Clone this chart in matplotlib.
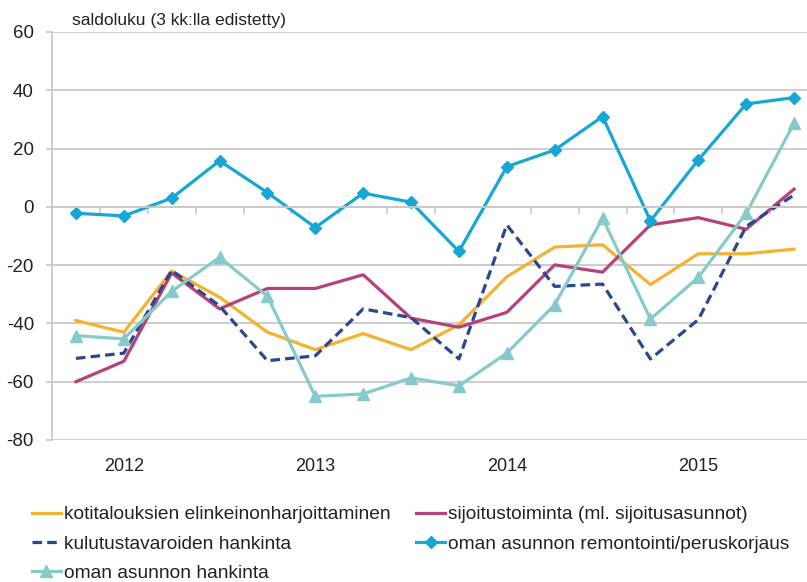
import matplotlib
matplotlib.use("Agg")
import matplotlib.pyplot as plt

periods = list(range(16))
year_labels = ["2012", "2013", "2014", "2015"]
year_pos = [1, 5, 9, 13]

koti = [-39, -43, -22, -31, -43, -49, -43.5, -49, -40.5, -24, -13.8, -13, -26.7, -16.1, -16.1, -14.5]
sijoitus = [-60, -53, -22.7, -35, -28, -28, -23.3, -38.2, -41.3, -36.2, -19.9, -22.4, -6.2, -3.7, -7.7, 6.1]
kulutus = [-52, -50.2, -21.8, -34, -52.8, -51.1, -35, -38, -52.2, -6.2, -27.3, -26.5, -52.2, -38.7, -6.7, 4.1]
remontointi = [-2.2, -3.1, 3.0, 15.8, 4.9, -7.1, 4.7, 1.6, -15.3, 13.8, 19.5, 31.0, -4.8, 16.1, 35.3, 37.5]
hankinta = [-44.2, -45.3, -29, -17.3, -30.7, -65, -64.2, -58.7, -61.4, -50.2, -33.6, -3.9, -38.5, -24.2, -2.2, 28.7]

labels = ["kotitalouksien elinkeinonharjoittaminen",
          "sijoitustoiminta (ml. sijoitusasunnot)",
          "kulutustavaroiden hankinta",
          "oman asunnon remontointi/peruskorjaus",
          "oman asunnon hankinta"]

c_koti = "#F3B232"
c_sij = "#B5437A"
c_kul = "#2B4790"
c_rem = "#18A7D5"
c_han = "#86CBCA"
grid_c = "#C9C9C9"

plt.rcParams['font.family'] = ['Liberation Sans', 'DejaVu Sans']
plt.rcParams['axes.unicode_minus'] = False

fig = plt.figure(figsize=(8.07, 5.82), dpi=100)
ax = fig.add_axes([52/807, 1-440/582, 766/807, 408/582])

lw = 2.3
l1, = ax.plot(periods, koti, color=c_koti, lw=lw, label=labels[0])
l2, = ax.plot(periods, sijoitus, color=c_sij, lw=lw, label=labels[1])
l3, = ax.plot(periods, kulutus, color=c_kul, lw=lw, ls=(0, (3.0, 1.6)), label=labels[2])
l4, = ax.plot(periods, remontointi, color=c_rem, lw=lw, marker='D', ms=6, label=labels[3])
l5, = ax.plot(periods, hankinta, color=c_han, lw=lw, marker='^', ms=9, label=labels[4])

ax.set_xlim(-0.5, 15.5)
ax.set_ylim(-80, 60)
ax.set_yticks(range(-80, 61, 20))
ax.yaxis.grid(True, color=grid_c, lw=1.3)
ax.set_axisbelow(True)
ax.tick_params(axis='y', labelsize=13.5, colors=grid_c, labelcolor='#222222', length=4, width=1.2, pad=9)

for s in ['top', 'right']:
    ax.spines[s].set_visible(False)
ax.spines['left'].set_color(grid_c)
ax.spines['left'].set_linewidth(1.3)
ax.spines['bottom'].set_position(('data', 0))
ax.spines['bottom'].set_color(grid_c)
ax.spines['bottom'].set_linewidth(1.3)
ax.set_xticks([p + 0.5 for p in periods[:-1]])
ax.tick_params(axis='x', direction='out', length=5, width=1.2, colors=grid_c, labelbottom=False)

sec = ax.secondary_xaxis('bottom')
sec.set_xticks(year_pos)
sec.set_xticklabels(year_labels)
sec.tick_params(length=0, pad=13, labelsize=13, labelcolor='#222222')
sec.spines['bottom'].set_visible(False)

fig.text(72/807, 1-20/582, "saldoluku (3 kk:lla edistetty)", fontsize=12.6, color='#222222',
         ha='left', va='center')

leg = fig.legend(handles=[l1, l3, l5, l2, l4],
                 labels=[labels[0], labels[2], labels[4], labels[1], labels[3]],
                 ncol=2, loc='upper left', bbox_to_anchor=(32/807, 1-506/582),
                 frameon=False, handlelength=1.5, handletextpad=0.15,
                 columnspacing=1.35, labelspacing=0.62, borderaxespad=0, borderpad=0,
                 prop={'family': ['Liberation Sans'], 'size': 13.8})
for t in leg.get_texts():
    t.set_color('#222222')

fig.savefig("out.png", dpi=100)
